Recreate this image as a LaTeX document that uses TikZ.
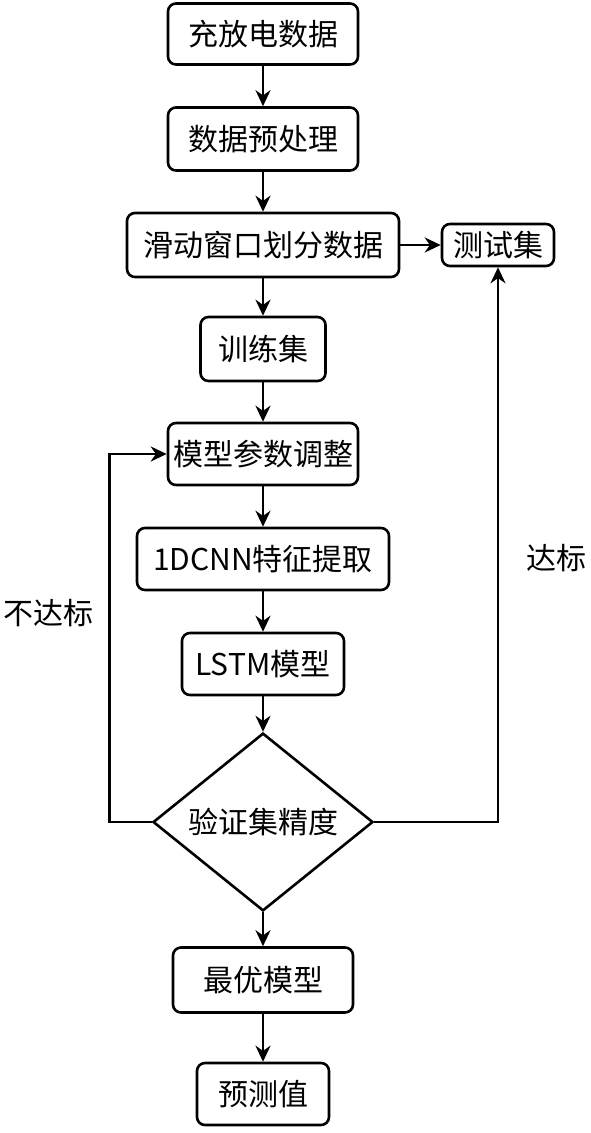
\documentclass[tikz,border=0pt]{standalone}
\usepackage{fontspec}
\setmainfont{Noto Sans CJK SC}
\usetikzlibrary{shapes.geometric,arrows.meta}

\begin{document}
\begin{tikzpicture}[x=1pt, y=-1pt, every node/.style={font=\fontsize{30}{32}\selectfont},
  box/.style={draw, line width=2.6pt, rounded corners=8pt, inner sep=0pt},
  flow/.style={line width=2.6pt, -{Stealth[length=16pt,width=15pt]}}]
  \useasboundingbox (0,0) rectangle (591,1133);

  % Etapes
  \node[box, minimum width=190pt, minimum height=61pt] (donnees) at (263,34) {充放电数据};
  \node[box, minimum width=190pt, minimum height=63pt] (pretrait) at (263,139) {数据预处理};
  \node[box, minimum width=272pt, minimum height=64pt] (fenetre) at (263,245) {滑动窗口划分数据};
  \node[box, minimum width=112pt, minimum height=42pt] (test) at (498,245) {测试集};
  \node[box, minimum width=125pt, minimum height=64pt] (train) at (263,349) {训练集};
  \node[box, minimum width=190pt, minimum height=62pt] (reglage) at (263,454) {模型参数调整};
  \node[box, minimum width=252pt, minimum height=62pt] (cnn) at (263,559) {1DCNN特征提取};
  \node[box, minimum width=162pt, minimum height=62pt] (lstm) at (263,664) {LSTM模型};
  \node[draw, diamond, line width=2.6pt, inner sep=0pt, minimum width=220pt, minimum height=167pt] (precision) at (263,822) {验证集精度};
  \node[box, minimum width=180pt, minimum height=65pt] (optimal) at (263,980) {最优模型};
  \node[box, minimum width=132pt, minimum height=62pt] (prediction) at (263,1094) {预测值};

  % Fleches
  \draw[flow] (donnees) -- (pretrait);
  \draw[flow] (pretrait) -- (fenetre);
  \draw[flow] (fenetre) -- (test);
  \draw[flow] (fenetre) -- (train);
  \draw[flow] (train) -- (reglage);
  \draw[flow] (reglage) -- (cnn);
  \draw[flow] (cnn) -- (lstm);
  \draw[flow] (lstm) -- (precision);
  \draw[flow] (precision) -- (optimal);
  \draw[flow] (optimal) -- (prediction);
  \draw[flow] (precision.west) -- ++(-42,0) |- (reglage.west);
  \draw[flow] (precision.east) -| (test.south);

  % Etiquettes
  \node (nonok) at (48,613) {不达标};
  \node (ok) at (556,558) {达标};
\end{tikzpicture}
\end{document}
